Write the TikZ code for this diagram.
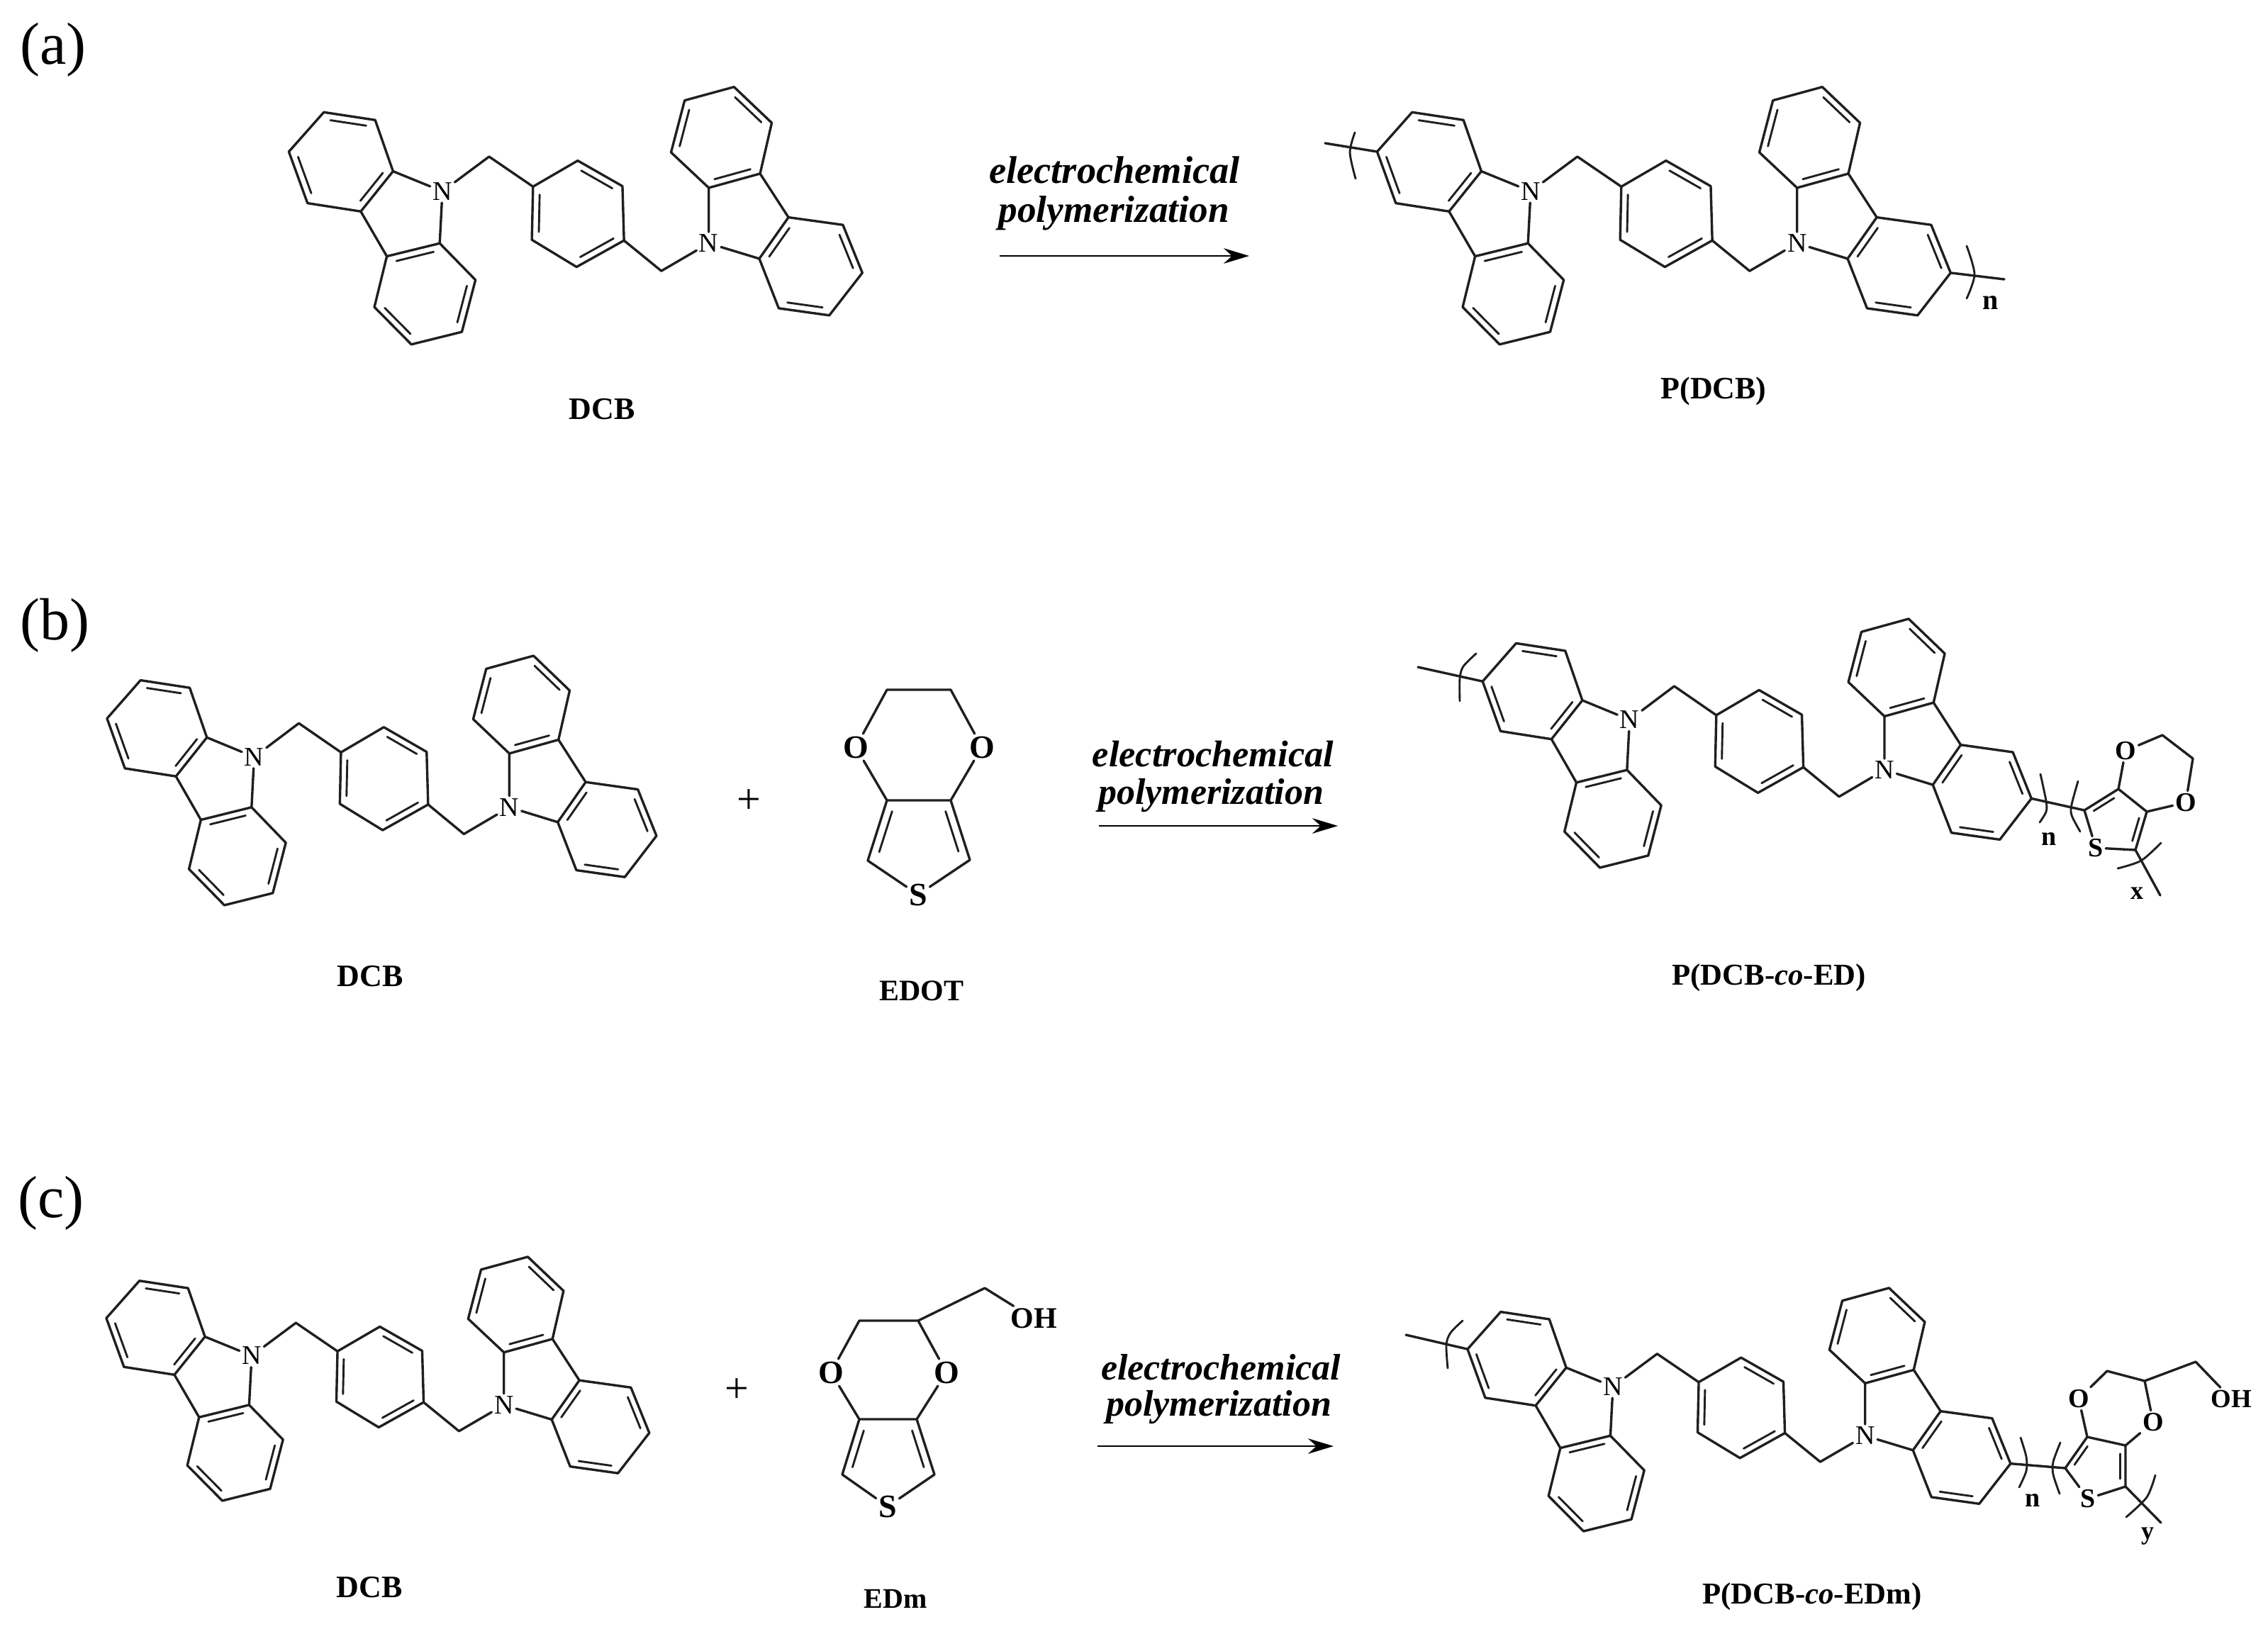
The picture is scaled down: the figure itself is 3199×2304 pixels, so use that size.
\documentclass[tikz,border=0pt]{standalone}
\usepackage{fontspec}
\setmainfont{Liberation Serif}
\usetikzlibrary{calc,arrows.meta}
\tikzset{
  bond/.style={line width=0.85pt,line join=round,line cap=round,color=black!88},
  innerbond/.style={line width=0.72pt,line cap=round,color=black!88,shorten >=1.4pt,shorten <=1.4pt},
  brk/.style={line width=0.72pt,line cap=round,color=black!88},
  atomN/.style={inner sep=0.7pt,font=\fontsize{9.5}{11}\selectfont},
  atomB/.style={inner sep=0.7pt,font=\fontsize{#1}{12}\selectfont\bfseries},
  atomB/.default=10,
  molname/.style={inner sep=0pt,font=\fontsize{#1}{13}\selectfont\bfseries},
  panel/.style={inner sep=0pt,font=\fontsize{21}{24}\selectfont},
  reagent/.style={inner sep=0pt,anchor=base,font=\fontsize{#1}{16}\selectfont\bfseries\itshape},
  plusmark/.style={inner sep=0pt,font=\fontsize{15}{17}\selectfont},
  rxn/.style={line width=0.7pt,color=black,-{Stealth[length=9pt,width=5.4pt]}}
}
\newcommand{\dbl}[4][0.15]{\draw[innerbond] ($(#2)!#1!(#4)$) -- ($(#3)!#1!(#4)$);}
\newcommand{\dcbmol}[4]{%
\begin{scope}[shift={(#1,#2)},x=#3,y=-#4]
 \coordinate (A1) at (140,205); \coordinate (A2) at (272,238); \coordinate (A3) at (318,455);
 \coordinate (A4) at (235,625); \coordinate (A5) at (98,590); \coordinate (A6) at (50,372);
 \coordinate (A7) at (438,760); \coordinate (A8) at (302,815); \coordinate (A9) at (270,1030);
 \coordinate (A10) at (365,1188); \coordinate (A11) at (495,1135); \coordinate (A12) at (530,915);
 \coordinate (CHa) at (565,393); \coordinate (CHb) at (1008,877);
 \coordinate (B1) at (678,520); \coordinate (B2) at (793,410); \coordinate (B3) at (908,518);
 \coordinate (B4) at (912,748); \coordinate (B5) at (790,860); \coordinate (B6) at (675,745);
 \coordinate (C1) at (1130,525); \coordinate (C2) at (1262,465); \coordinate (C3) at (1335,650);
 \coordinate (C4) at (1260,825); \coordinate (D1) at (1292,250); \coordinate (D2) at (1195,98);
 \coordinate (D3) at (1068,155); \coordinate (D4) at (1033,375); \coordinate (E1) at (1475,682);
 \coordinate (E2) at (1525,885); \coordinate (E3) at (1440,1065); \coordinate (E4) at (1310,1035);
 \coordinate (RA) at (185,414); \coordinate (RB) at (793,635); \coordinate (RL) at (400,974);
 \coordinate (RD) at (1163,311); \coordinate (RE) at (1391,857);
 \node[atomN] (N1) at (445,540) {N};
 \node[atomN] (N2) at (1130,760) {N};
 \draw[bond] (A1) -- (A2) -- (A3) -- (A4) -- (A5) -- (A6) -- cycle;
 \draw[bond] (A3) -- (N1) -- (A7) -- (A8) -- (A4);
 \draw[bond] (A8) -- (A9) -- (A10) -- (A11) -- (A12) -- (A7);
 \draw[bond] (N1) -- (CHa) -- (B1);
 \draw[bond] (B1) -- (B2) -- (B3) -- (B4) -- (B5) -- (B6) -- cycle;
 \draw[bond] (B4) -- (CHb) -- (N2);
 \draw[bond] (N2) -- (C1) -- (C2) -- (C3) -- (C4) -- (N2);
 \draw[bond] (C1) -- (D4) -- (D3) -- (D2) -- (D1) -- (C2);
 \draw[bond] (C3) -- (E1) -- (E2) -- (E3) -- (E4) -- (C4);
 \dbl{A1}{A2}{RA} \dbl{A5}{A6}{RA} \dbl{A3}{A4}{RA}
 \dbl{A7}{A8}{RL} \dbl{A9}{A10}{RL} \dbl{A11}{A12}{RL}
 \dbl{B1}{B6}{RB} \dbl{B2}{B3}{RB} \dbl{B4}{B5}{RB}
 \dbl{C1}{C2}{RD} \dbl{D1}{D2}{RD} \dbl{D3}{D4}{RD}
 \dbl{C3}{C4}{RE} \dbl{E1}{E2}{RE} \dbl{E3}{E4}{RE}
\end{scope}}
\begin{document}
\begin{tikzpicture}[x=0.25pt,y=-0.25pt]
\useasboundingbox (0,0) rectangle (3199,2304);
% panel labels
\node[panel] (pa) at (75,70) {(a)};
\node[panel] (pb) at (77,882) {(b)};
\node[panel] (pc) at (72,1697) {(c)};

% ---------- (a)
\dcbmol{380}{90}{0.1371pt}{0.0833pt}
\node[molname=11] (dcba) at (849,577) {DCB};
\node[reagent=13.6] (ea) at (1572,258) {electrochemical};
\node[reagent=13.3] (pola) at (1571,313) {polymerization};
\coordinate (ras) at (1410,361); \coordinate (rae) at (1762,361);
\draw[rxn] (ras) -- (rae);
\dcbmol{1915}{90}{0.1371pt}{0.0833pt}
\coordinate (la) at (1869,202); \coordinate (ra) at (2827,394);
\draw[bond] (A6) -- (la);
\draw[bond] (E2) -- (ra);
\draw[brk] plot[smooth] coordinates {(1911,187) (1904,215) (1912,252)};
\draw[brk] plot[smooth] coordinates {(2774,347) (2785,387) (2774,421)};
\node[atomB=10] (na) at (2808,427) {n};
\node[molname=11] (pdcb) at (2417,552) {P(DCB)};

% ---------- (b)
\dcbmol{124.7}{893.4}{0.13135pt}{0.0807pt}
\node[molname=11] (dcbb) at (522,1377) {DCB};
\node[plusmark] (plusb) at (1056,1131) {+};
\coordinate (Ea) at (1251,973); \coordinate (Eb) at (1341,973);
\coordinate (Ej1) at (1251,1129); \coordinate (Ej2) at (1341,1129);
\coordinate (Ec1) at (1224,1214); \coordinate (Ec2) at (1368,1213);
\coordinate (Ect) at (1296,1180);
\node[atomB=11.5] (EO1) at (1207,1054) {O};
\node[atomB=11.5] (EO2) at (1385,1054) {O};
\node[atomB=11.5] (ES) at (1295,1262) {S};
\draw[bond] (EO1) -- (Ea) -- (Eb) -- (EO2) -- (Ej2) -- (Ej1) -- (EO1);
\draw[bond] (Ej1) -- (Ec1) -- (ES) -- (Ec2) -- (Ej2);
\dbl[0.2]{Ej1}{Ec1}{Ect} \dbl[0.2]{Ej2}{Ec2}{Ect}
\node[molname=10.5] (edot) at (1300,1398) {EDOT};
\node[reagent=13.1] (eb) at (1711,1081) {electrochemical};
\node[reagent=13] (polb) at (1708,1134) {polymerization};
\coordinate (rbs) at (1550,1165); \coordinate (rbe) at (1887,1165);
\draw[rxn] (rbs) -- (rbe);
\dcbmol{2065}{841.4}{0.1312pt}{0.0805pt}
\coordinate (lb) at (2000,941);
\draw[bond] (A6) -- (lb);
\draw[brk] plot[smooth] coordinates {(2082,922) (2064,940) (2059,957) (2059,989)};
\coordinate (T1) at (2940,1143); \coordinate (T2) at (2988,1113);
\coordinate (T3) at (3028,1145); \coordinate (T4) at (3012,1199);
\coordinate (Tc1) at (3050,1037); \coordinate (Tc2) at (3093,1070);
\coordinate (Tct) at (2982,1162); \coordinate (Tend) at (3047,1263);
\node[atomB=9.5] (TS) at (2956,1196) {S};
\node[atomB=9.5] (TO1) at (2998,1059) {O};
\node[atomB=9.5] (TO2) at (3083,1132) {O};
\draw[bond] (E2) -- (T1) -- (T2) -- (T3) -- (T4) -- (TS) -- (T1);
\draw[bond] (T2) -- (TO1) -- (Tc1) -- (Tc2) -- (TO2) -- (T3);
\draw[bond] (T4) -- (Tend);
\dbl[0.2]{T1}{T2}{Tct} \dbl[0.2]{T3}{T4}{Tct}
\draw[brk] plot[smooth] coordinates {(2878,1092) (2886,1130) (2886,1145) (2877,1160)};
\draw[brk] plot[smooth] coordinates {(2931,1102) (2922,1135) (2922,1150) (2934,1173)};
\draw[brk] plot[smooth] coordinates {(3048,1189) (3020,1214) (2987,1225)};
\node[atomB=9.5] (nb) at (2890,1184) {n};
\node[atomB=9] (xb) at (3014,1260) {x};
\node[molname=10.7] (pco) at (2495,1379) {P(DCB-{\itshape co}-ED)};

% ---------- (c)
\dcbmol{124}{1742}{0.1298pt}{0.0789pt}
\node[molname=11] (dcbc) at (521,2239) {DCB};
\node[plusmark] (plusc) at (1039,1962) {+};
\coordinate (Ma) at (1212,1863); \coordinate (Mb) at (1295,1863);
\coordinate (Mside) at (1389,1817);
\coordinate (Mj1) at (1212,2002); \coordinate (Mj2) at (1293,2002);
\coordinate (Mc1) at (1188,2080); \coordinate (Mc2) at (1318,2080);
\coordinate (Mct) at (1252,2055);
\node[atomB=11.5] (MO1) at (1172,1936) {O};
\node[atomB=11.5] (MO2) at (1335,1936) {O};
\node[atomB=11.5] (MS) at (1252,2125) {S};
\node[atomB=10.5] (MOH) at (1458,1860) {OH};
\draw[bond] (MO1) -- (Ma) -- (Mb) -- (MO2) -- (Mj2) -- (Mj1) -- (MO1);
\draw[bond] (Mj1) -- (Mc1) -- (MS) -- (Mc2) -- (Mj2);
\draw[bond] (Mb) -- (Mside) -- (MOH);
\dbl[0.2]{Mj1}{Mc1}{Mct} \dbl[0.2]{Mj2}{Mc2}{Mct}
\node[molname=10] (edm) at (1263,2255) {EDm};
\node[reagent=13] (ec) at (1722,1946) {electrochemical};
\node[reagent=13] (polc) at (1719,1997) {polymerization};
\coordinate (rcs) at (1548,2040); \coordinate (rce) at (1881,2040);
\draw[rxn] (rcs) -- (rce);
\dcbmol{2044}{1786}{0.1298pt}{0.0787pt}
\coordinate (lc) at (1983,1883);
\draw[bond] (A6) -- (lc);
\draw[brk] plot[smooth] coordinates {(2063,1863) (2046,1880) (2040,1897) (2042,1930)};
\coordinate (U1) at (2913,2071); \coordinate (U2) at (2944,2027);
\coordinate (U3) at (2998,2039); \coordinate (U4) at (2998,2097);
\coordinate (Uc) at (2972,1934); \coordinate (Ud) at (3025,1948);
\coordinate (Ue) at (3097,1921); \coordinate (Uct) at (2962,2070);
\coordinate (Uend) at (3048,2148);
\node[atomB=9.5] (US) at (2945,2114) {S};
\node[atomB=9.5] (UO1) at (2932,1973) {O};
\node[atomB=9.5] (UO2) at (3037,2006) {O};
\node[atomB=9.2] (UOH) at (3147,1973) {OH};
\draw[bond] (E2) -- (U1) -- (U2) -- (U3) -- (U4) -- (US) -- (U1);
\draw[bond] (U2) -- (UO1) -- (Uc) -- (Ud) -- (UO2) -- (U3);
\draw[bond] (Ud) -- (Ue) -- (UOH);
\draw[bond] (U4) -- (Uend);
\dbl[0.2]{U1}{U2}{Uct} \dbl[0.2]{U3}{U4}{Uct}
\draw[brk] plot[smooth] coordinates {(2850,2028) (2858,2055) (2858,2075) (2848,2098)};
\draw[brk] plot[smooth] coordinates {(2906,2035) (2896,2062) (2896,2080) (2905,2107)};
\draw[brk] plot[smooth] coordinates {(3040,2081) (3028,2112) (2999,2140)};
\node[atomB=9.5] (nc) at (2867,2117) {n};
\node[atomB=9] (yc) at (3029,2167) {y};
\node[molname=10.7] (pcom) at (2556,2252) {P(DCB-{\itshape co}-EDm)};
\end{tikzpicture}
\end{document}
